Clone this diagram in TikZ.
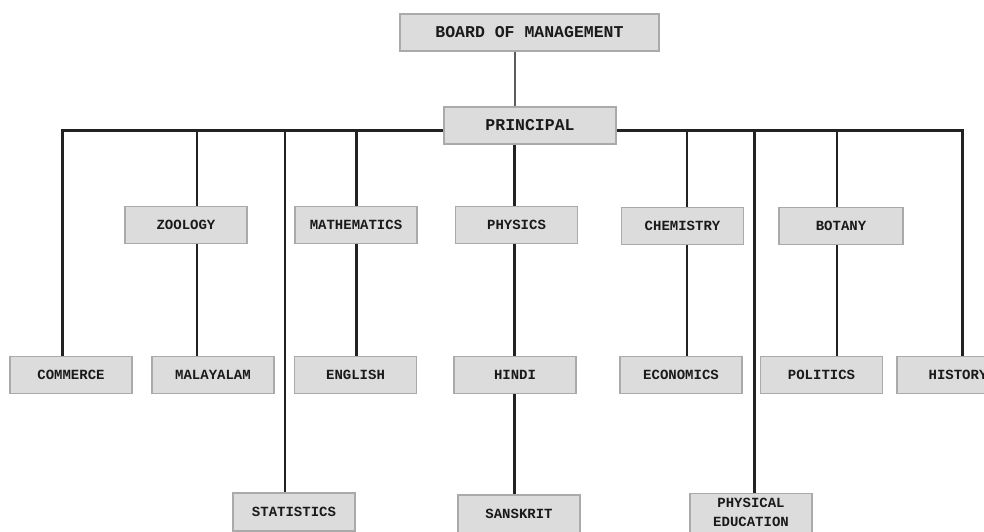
\documentclass[tikz,border=0pt]{standalone}
\usepackage{fontspec}
\setmonofont{Liberation Mono}
\usetikzlibrary{calc,positioning}
\definecolor{OrgFill}{HTML}{DCDCDC}
\definecolor{OrgBorder}{HTML}{AAAAAA}
\definecolor{OrgInk}{HTML}{1A1A1A}
\definecolor{OrgLine}{HTML}{222222}
\definecolor{OrgSoft}{HTML}{5C5C5C}
\tikzset{
  orgBase/.style={
    font=\ttfamily\bfseries\fontsize{14pt}{20pt}\selectfont,
    text=OrgInk,
    text centered,
    inner sep=0pt,
    line width=1.2pt,
    fill=OrgFill,
    draw=OrgBorder
  },
  orgTop/.style={
    orgBase,
    font=\ttfamily\bfseries\fontsize{16.5pt}{18pt}\selectfont,
    minimum height=37pt
  },
  orgDept/.style={
    orgBase,
    minimum width=122pt,
    minimum height=37pt
  },
  orgBus/.style={
    line width=3pt,
    color=OrgLine
  },
  orgLink/.style={
    line width=2.4pt,
    color=OrgLine
  },
  orgThin/.style={
    line width=2pt,
    color=OrgSoft
  }
}
\begin{document}
\begin{tikzpicture}[x=1pt, y=-1pt]
  \useasboundingbox (0,0) rectangle (984,531);

  % top of the chart
  \node (board) [orgTop, minimum width=259pt] at (529.5,32.5) {BOARD OF MANAGEMENT};
  \node (prin) [orgTop, minimum width=172pt] at (530,125.5) {PRINCIPAL};

  % first row
  \node (zoo) [orgDept] at (186,225) {ZOOLOGY};
  \node (math) [orgDept] at (356,225) {MATHEMATICS};
  \node (phys) [orgDept] at (516.5,225) {PHYSICS};
  \node (chem) [orgDept] at (682.5,226) {CHEMISTRY};
  \node (bot) [orgDept, minimum width=124pt] at (841,226) {BOTANY};

  % second row
  \node (com) [orgDept] at (71,375) {COMMERCE};
  \node (mal) [orgDept] at (213,375) {MALAYALAM};
  \node (eng) [orgDept] at (355.5,375) {ENGLISH};
  \node (hin) [orgDept] at (515,375) {HINDI};
  \node (eco) [orgDept] at (681,375) {ECONOMICS};
  \node (pol) [orgDept] at (821.5,375) {POLITICS};
  \node (his) [orgDept] at (958,375) {HISTORY};

  % third row
  \node (stat) [orgDept, minimum height=38pt] at (294,512) {STATISTICS};
  \node (san) [orgDept, minimum height=38pt] at (519,514) {SANSKRIT};
  \node (phed) [orgDept, anchor=north, align=center, inner ysep=5pt, minimum height=0pt,
    font=\ttfamily\bfseries\fontsize{14pt}{19pt}\selectfont] at (751,493) {PHYSICAL\\EDUCATION};

  % where the columns leave the bus
  \coordinate (cMid) at (514.5,0);
  \coordinate (cCom) at (62,130);
  \coordinate (cZoo) at (197,130);
  \coordinate (cStat) at (285,130);
  \coordinate (cMath) at (356.5,130);
  \coordinate (cChem) at (687,130);
  \coordinate (cPhed) at (754.5,130);
  \coordinate (cBot) at (837,130);
  \coordinate (cHis) at (962,130);

  \draw [orgThin] (board.south -| cMid) -- (prin.north -| cMid);

  \draw [orgBus] (com.north -| cCom) -- (cCom) -- (prin.west |- cCom);
  \draw [orgBus] (prin.east |- cHis) -- (cHis) -- (his.north -| cHis);

  \draw [orgLink] (cZoo) -- (zoo.north -| cZoo);
  \draw [orgLink] (zoo.south -| cZoo) -- (mal.north -| cZoo);
  \draw [orgLink] (cStat) -- (stat.north -| cStat);
  \draw [orgLink] (cMath) -- (math.north -| cMath);
  \draw [orgLink] (math.south -| cMath) -- (eng.north -| cMath);
  \draw [orgLink] (prin.south -| cMid) -- (phys.north -| cMid);
  \draw [orgLink] (phys.south -| cMid) -- (hin.north -| cMid);
  \draw [orgLink] (hin.south -| cMid) -- (san.north -| cMid);
  \draw [orgLink] (cChem) -- (chem.north -| cChem);
  \draw [orgLink] (chem.south -| cChem) -- (eco.north -| cChem);
  \draw [orgLink] (cPhed) -- (phed.north -| cPhed);
  \draw [orgLink] (cBot) -- (bot.north -| cBot);
  \draw [orgLink] (bot.south -| cBot) -- (pol.north -| cBot);
\end{tikzpicture}
\end{document}
